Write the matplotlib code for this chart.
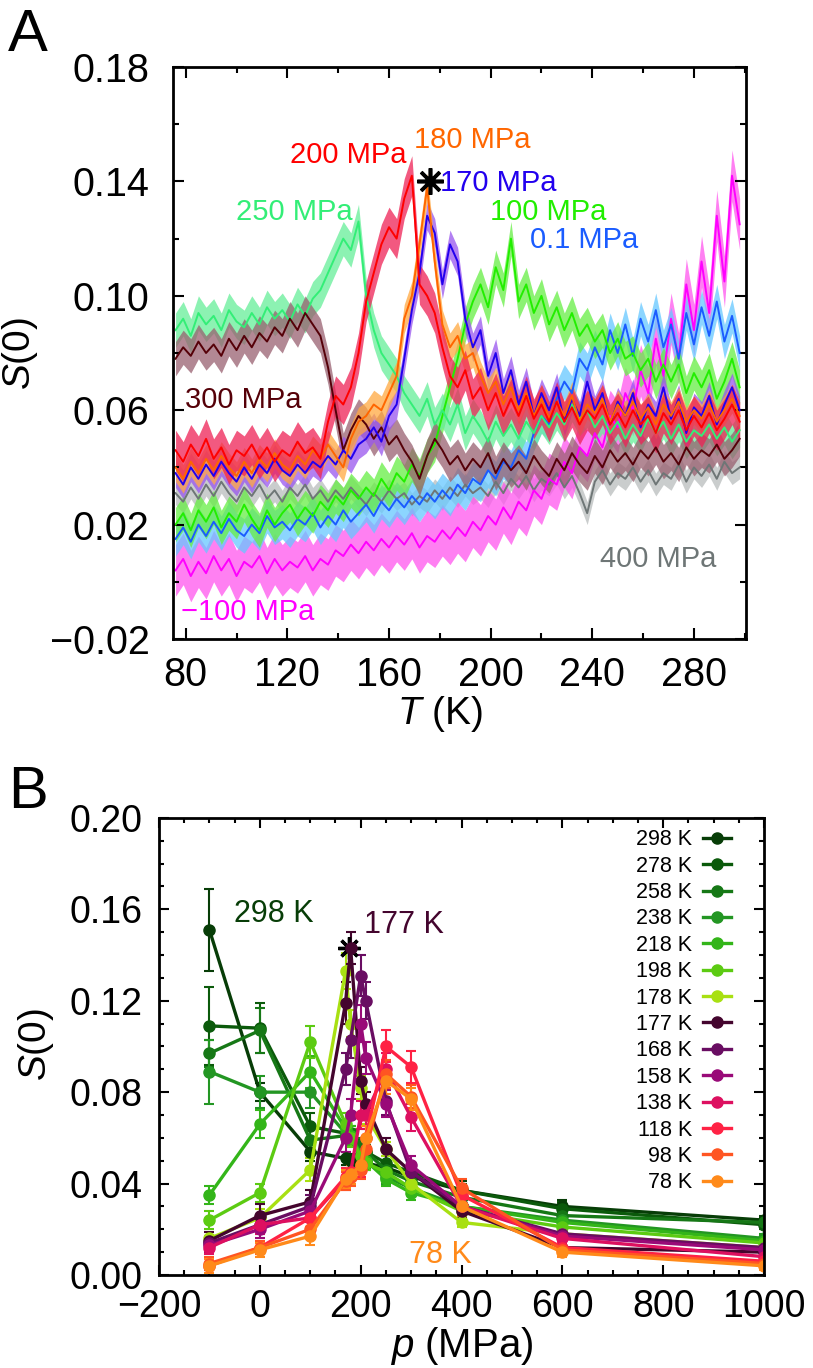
import numpy as np
import matplotlib
matplotlib.use('Agg')
import matplotlib.pyplot as plt
from matplotlib.ticker import FuncFormatter
from matplotlib.lines import Line2D

'''
Two panels of S(0): (A) versus temperature at fixed pressure, with a shaded band,
(B) versus pressure at fixed temperature, with error bars.
'''

plt.rcParams['font.family'] = ['Liberation Sans', 'DejaVu Sans']
plt.rcParams['mathtext.fontset'] = 'custom'
plt.rcParams['mathtext.rm'] = 'Liberation Sans'
plt.rcParams['mathtext.it'] = 'Liberation Sans:italic'

# ------------------------------------------------------| Data panel A
temp_a = np.arange(76, 299, 3)  # K, 75 samples

s_m100 = [.004, .008, .002, .007, .003, .009, .004, .008, .002, .007,
          .005, .009, .003, .008, .004, .007, .005, .009, .004, .008,
          .006, .011, .009, .013, .010, .014, .011, .015, .012, .016,
          .013, .017, .012, .016, .014, .018, .015, .019, .016, .021,
          .018, .023, .020, .026, .022, .028, .025, .032, .029, .036,
          .034, .042, .038, .047, .044, .052, .047, .058, .054, .066,
          .060, .074, .066, .085, .072, .092, .078, .104, .088, .112,
          .094, .128, .105, .142, .125]
s_01 = [.015, .019, .014, .020, .016, .021, .017, .022, .018, .016,
        .020, .017, .023, .019, .021, .018, .022, .020, .024, .019,
        .023, .020, .025, .021, .024, .027, .023, .028, .025, .029,
        .026, .030, .027, .031, .028, .032, .029, .034, .031, .036,
        .034, .039, .036, .042, .040, .046, .043, .052, .058, .055,
        .064, .070, .066, .078, .074, .082, .076, .088, .080, .090,
        .079, .092, .084, .095, .082, .090, .078, .094, .083, .096,
        .086, .098, .084, .093, .080]
s_100 = [.020, .024, .018, .025, .021, .026, .019, .024, .021, .027,
         .022, .018, .025, .020, .024, .027, .022, .026, .023, .028,
         .025, .030, .027, .032, .029, .033, .030, .036, .032, .038,
         .035, .041, .037, .044, .048, .058, .068, .078, .090, .098,
         .104, .096, .110, .102, .120, .098, .104, .094, .100, .090,
         .096, .088, .094, .086, .090, .084, .088, .080, .085, .078,
         .080, .074, .078, .070, .076, .070, .076, .066, .073, .068,
         .074, .064, .070, .078, .068]
s_170 = [.038, .034, .040, .036, .041, .037, .042, .038, .035, .040,
         .036, .041, .038, .043, .039, .037, .041, .038, .042, .040,
         .044, .041, .046, .043, .048, .050, .054, .049, .058, .062,
         .078, .095, .108, .128, .122, .104, .118, .112, .092, .082,
         .088, .072, .080, .066, .074, .062, .070, .058, .066, .060,
         .068, .056, .064, .058, .070, .060, .066, .055, .063, .058,
         .066, .054, .062, .058, .068, .057, .064, .052, .061, .058,
         .065, .055, .062, .068, .060]
s_180 = [.040, .036, .042, .038, .043, .039, .044, .040, .037, .042,
         .038, .043, .040, .045, .041, .039, .044, .041, .046, .043,
         .048, .044, .040, .050, .056, .058, .062, .060, .066, .072,
         .092, .100, .118, .138, .112, .090, .082, .086, .078, .080,
         .072, .066, .070, .062, .068, .060, .066, .058, .064, .057,
         .063, .058, .065, .056, .062, .059, .064, .056, .062, .058,
         .063, .057, .061, .055, .062, .058, .063, .056, .060, .057,
         .062, .056, .060, .064, .058]
s_200 = [.046, .042, .048, .044, .050, .043, .047, .041, .046, .044,
         .048, .043, .047, .042, .046, .044, .049, .045, .047, .043,
         .056, .065, .062, .068, .080, .098, .108, .118, .124, .120,
         .134, .142, .104, .100, .094, .082, .072, .068, .074, .064,
         .068, .060, .066, .058, .064, .058, .065, .057, .062, .056,
         .063, .056, .061, .055, .060, .057, .062, .055, .059, .054,
         .060, .055, .058, .052, .059, .055, .060, .053, .058, .054,
         .059, .053, .057, .062, .056]
s_250 = [.088, .092, .086, .094, .090, .093, .088, .095, .091, .089,
         .094, .090, .096, .092, .095, .091, .097, .093, .099, .102,
         .108, .114, .120, .116, .126, .100, .088, .080, .076, .072,
         .066, .062, .058, .064, .055, .060, .055, .062, .052, .058,
         .054, .049, .056, .051, .055, .050, .056, .052, .058, .054,
         .059, .055, .062, .057, .060, .054, .058, .052, .056, .050,
         .055, .051, .057, .052, .056, .050, .055, .049, .053, .051,
         .055, .050, .054, .049, .053]
s_300 = [.078, .082, .079, .084, .080, .083, .079, .085, .081, .086,
         .082, .087, .084, .089, .086, .092, .088, .094, .090, .086,
         .075, .060, .046, .053, .058, .055, .050, .054, .048, .051,
         .046, .042, .036, .044, .050, .046, .041, .044, .039, .043,
         .040, .045, .038, .043, .039, .042, .038, .044, .040, .037,
         .043, .039, .045, .041, .038, .044, .040, .046, .042, .045,
         .041, .046, .043, .047, .042, .045, .041, .047, .043, .046,
         .044, .048, .043, .046, .050]
s_400 = [.031, .028, .033, .029, .034, .030, .035, .031, .028, .033,
         .030, .034, .029, .032, .028, .033, .030, .034, .029, .032,
         .028, .032, .029, .033, .030, .027, .031, .028, .032, .029,
         .031, .027, .030, .028, .032, .029, .033, .030, .034, .031,
         .033, .030, .035, .031, .036, .033, .037, .032, .036, .034,
         .038, .033, .037, .031, .024, .035, .039, .034, .038, .036,
         .040, .035, .039, .034, .038, .036, .041, .035, .040, .037,
         .041, .036, .042, .038, .040]

labels_a = ['400 MPa', '\u2212100 MPa', '0.1 MPa', '100 MPa', '250 MPa',
            '300 MPa', '170 MPa', '180 MPa', '200 MPa']
values_a = [s_400, s_m100, s_01, s_100, s_250, s_300, s_170, s_180, s_200]
band_a = [0.004, 0.009, 0.006, 0.006, 0.006, 0.006, 0.005, 0.005, 0.007]
line_col_a = ['#6E7676', '#FF00FF', '#1A5CFF', '#22EE00', '#33EE77',
              '#550008', '#2200EE', '#FF6600', '#FF0000']
band_col_a = ['#B9BDBD', '#FF55EE', '#66C8FF', '#66EE44', '#66EE99',
              '#996070', '#9955EE', '#FFA840', '#EE2255']
# label anchor (T, S(0)) per series, same order
lab_t_a = [266, 104.2, 236.6, 222.8, 122.6, 102.6, 202.8, 192.6, 143.8]
lab_s_a = [0.0052, -0.0133, 0.1167, 0.1265, 0.1265, 0.0608, 0.1367, 0.1516, 0.1464]

star_a = (176, 0.140)

# ------------------------------------------------------| Data panel B
pres_b = [-100, 0, 100, 170, 180, 200, 210, 250, 300, 400, 600, 1000]  # MPa
temps_b = ['298 K', '278 K', '258 K', '238 K', '218 K', '198 K', '178 K',
           '177 K', '168 K', '158 K', '138 K', '118 K', '98 K', '78 K']

s_298 = [0.151, 0.080, 0.054, 0.051, 0.050, 0.049, 0.049, 0.047, 0.043, 0.037, 0.030, 0.024]
s_278 = [0.109, 0.108, 0.065, 0.062, 0.060, 0.056, 0.054, 0.049, 0.045, 0.037, 0.029, 0.022]
s_258 = [0.097, 0.107, 0.059, 0.061, 0.062, 0.057, 0.054, 0.046, 0.041, 0.034, 0.026, 0.023]
s_238 = [0.089, 0.080, 0.080, 0.062, 0.060, 0.052, 0.050, 0.043, 0.038, 0.030, 0.024, 0.016]
s_218 = [0.035, 0.066, 0.089, 0.064, 0.061, 0.053, 0.050, 0.042, 0.036, 0.030, 0.023, 0.015]
s_198 = [0.024, 0.036, 0.102, 0.066, 0.060, 0.052, 0.049, 0.045, 0.038, 0.028, 0.021, 0.014]
s_178 = [0.016, 0.025, 0.046, 0.133, 0.110, 0.082, 0.070, 0.055, 0.040, 0.023, 0.018, 0.012]
s_177 = [0.015, 0.026, 0.032, 0.119, 0.143, 0.085, 0.075, 0.055, 0.045, 0.028, 0.012, 0.010]
s_168 = [0.014, 0.022, 0.030, 0.090, 0.103, 0.131, 0.120, 0.076, 0.045, 0.030, 0.018, 0.012]
s_158 = [0.013, 0.020, 0.028, 0.060, 0.070, 0.110, 0.095, 0.075, 0.048, 0.030, 0.017, 0.011]
s_138 = [0.012, 0.022, 0.025, 0.042, 0.045, 0.070, 0.070, 0.090, 0.069, 0.030, 0.016, 0.008]
s_118 = [0.004, 0.012, 0.025, 0.043, 0.045, 0.048, 0.060, 0.100, 0.091, 0.035, 0.012, 0.006]
s_98 = [0.005, 0.012, 0.020, 0.041, 0.043, 0.046, 0.055, 0.088, 0.078, 0.038, 0.011, 0.005]
s_78 = [0.004, 0.011, 0.017, 0.042, 0.044, 0.048, 0.060, 0.085, 0.077, 0.030, 0.010, 0.004]

e_298 = [0.018, 0.004, 0.004, 0.003, 0.003, 0.003, 0.003, 0.003, 0.003, 0.004, 0.003, 0.002]
e_278 = [0.017, 0.011, 0.006, 0.003, 0.003, 0.003, 0.003, 0.003, 0.003, 0.003, 0.003, 0.002]
e_258 = [0.006, 0.010, 0.006, 0.003, 0.003, 0.003, 0.003, 0.003, 0.003, 0.003, 0.003, 0.002]
e_238 = [0.014, 0.007, 0.007, 0.004, 0.003, 0.003, 0.003, 0.003, 0.003, 0.003, 0.002, 0.002]
e_218 = [0.004, 0.006, 0.007, 0.004, 0.004, 0.003, 0.003, 0.003, 0.003, 0.003, 0.002, 0.002]
e_198 = [0.004, 0.004, 0.007, 0.005, 0.004, 0.003, 0.003, 0.003, 0.003, 0.003, 0.002, 0.002]
e_178 = [0.003, 0.004, 0.005, 0.008, 0.006, 0.005, 0.004, 0.003, 0.003, 0.002, 0.002, 0.002]
e_177 = [0.004, 0.005, 0.005, 0.009, 0.007, 0.006, 0.005, 0.005, 0.004, 0.003, 0.002, 0.002]
e_168 = [0.003, 0.004, 0.005, 0.007, 0.008, 0.009, 0.008, 0.006, 0.004, 0.003, 0.002, 0.002]
e_158 = [0.003, 0.004, 0.005, 0.006, 0.007, 0.008, 0.007, 0.006, 0.004, 0.003, 0.002, 0.002]
e_138 = [0.003, 0.004, 0.004, 0.005, 0.005, 0.006, 0.006, 0.007, 0.006, 0.003, 0.002, 0.002]
e_118 = [0.003, 0.003, 0.004, 0.004, 0.004, 0.005, 0.005, 0.007, 0.007, 0.004, 0.002, 0.002]
e_98 = [0.003, 0.003, 0.004, 0.004, 0.004, 0.004, 0.005, 0.006, 0.005, 0.004, 0.002, 0.002]
e_78 = [0.003, 0.003, 0.004, 0.004, 0.004, 0.004, 0.005, 0.006, 0.005, 0.004, 0.002, 0.002]

values_b = [s_298, s_278, s_258, s_238, s_218, s_198, s_178,
            s_177, s_168, s_158, s_138, s_118, s_98, s_78]
errors_b = [e_298, e_278, e_258, e_238, e_218, e_198, e_178,
            e_177, e_168, e_158, e_138, e_118, e_98, e_78]
colors_b = ['#073D07', '#0B5A0B', '#167816', '#239623', '#33B519', '#5CCB12', '#A8E012',
            '#44052E', '#690D62', '#990A78', '#DD1060', '#FF2244', '#FF5522', '#FF8A1A']

star_b = (177, 0.143)

# ------------------------------------------------------| Figure
fig = plt.figure(figsize=(8.13, 13.68), dpi=100)
axA = fig.add_axes([0.2128, 0.5329, 0.7048, 0.4181])
axB = fig.add_axes([0.1956, 0.0680, 0.7442, 0.3341])

minus_fmt = FuncFormatter(lambda v, _: ('%.2f' % v).replace('-', '\u2212'))
int_fmt = FuncFormatter(lambda v, _: ('%d' % round(v)).replace('-', '\u2212'))

# --------------- | Panel A
for i in range(len(values_a)):
    s = np.array(values_a[i])
    axA.fill_between(temp_a, s - band_a[i], s + band_a[i], color=band_col_a[i],
                     alpha=0.75, lw=0)
    axA.plot(temp_a, s, color=line_col_a[i], lw=1.4)
    axA.text(lab_t_a[i], lab_s_a[i], labels_a[i], color=line_col_a[i],
             fontsize=21, ha='center', va='baseline')

axA.plot(star_a[0], star_a[1], marker=(8, 2, 0), ms=19, mew=2.6, color='black')

axA.set_xlim(75, 300.5)
axA.set_ylim(-0.02, 0.18)
axA.set_xticks([80, 120, 160, 200, 240, 280])
axA.set_xticks([100, 140, 180, 220, 260, 300], minor=True)
axA.set_yticks([-0.02, 0.02, 0.06, 0.10, 0.14, 0.18])
axA.set_yticks([0.0, 0.04, 0.08, 0.12, 0.16], minor=True)
axA.yaxis.set_major_formatter(minus_fmt)
axA.tick_params(which='both', direction='in', top=True, right=True, width=1.5,
                labelsize=28.5)
axA.tick_params(which='major', length=8)
axA.tick_params(which='minor', length=4)
axA.tick_params(axis='x', pad=12)
axA.tick_params(axis='y', pad=17)
for sp in axA.spines.values():
    sp.set_linewidth(2)
axA.text(-0.267, 0.5, '$S$(0)', transform=axA.transAxes, rotation=90,
         ha='center', va='center', fontsize=28)
fig.text(440 / 813, 1 - 724 / 1368, '$T$ (K)', ha='center', va='baseline', fontsize=28)

# --------------- | Panel B
handles = []
for i in range(len(values_b)):
    axB.errorbar(pres_b, values_b[i], yerr=errors_b[i], color=colors_b[i], lw=2.4,
                 marker='o', ms=8, capsize=3.5, elinewidth=1.5, capthick=1.5)
    handles.append(Line2D([], [], color=colors_b[i], lw=2.4, marker='o', ms=8))

axB.plot(star_b[0], star_b[1], marker=(8, 2, 0), ms=16, mew=2.4, color='black')

axB.text(27, 0.1546, '298 K', color=colors_b[0], fontsize=22, ha='center', va='baseline')
axB.text(285, 0.1495, '177 K', color=colors_b[7], fontsize=22, ha='center', va='baseline')
axB.text(358, 0.0052, '78 K', color=colors_b[13], fontsize=22, ha='center', va='baseline')

axB.legend(handles, temps_b, loc='upper right', bbox_to_anchor=(0.945, 0.975),
           markerfirst=False, frameon=False, fontsize=15.5, handlelength=1.3,
           handletextpad=0.5, labelspacing=0.25, borderpad=0, borderaxespad=0)

axB.set_xlim(-200, 1000)
axB.set_ylim(0, 0.20)
axB.set_xticks([-200, 0, 200, 400, 600, 800, 1000])
axB.set_xticks(np.arange(-200, 1001, 50), minor=True)
axB.set_yticks([0.0, 0.04, 0.08, 0.12, 0.16, 0.20])
axB.set_yticks(np.arange(0, 0.2001, 0.01), minor=True)
axB.xaxis.set_major_formatter(int_fmt)
axB.yaxis.set_major_formatter(minus_fmt)
axB.tick_params(which='both', direction='in', top=True, right=True, width=1.5,
                labelsize=27)
axB.tick_params(which='major', length=7)
axB.tick_params(which='minor', length=3.5)
axB.tick_params(axis='x', pad=10)
axB.tick_params(axis='y', pad=12)
for sp in axB.spines.values():
    sp.set_linewidth(2)
axB.text(-0.203, 0.505, '$S$(0)', transform=axB.transAxes, rotation=90,
         ha='center', va='center', fontsize=28)
fig.text(462 / 813, 1 / 1368, '$p$ (MPa)', ha='center', va='bottom', fontsize=29)

# panel letters
fig.text(8 / 813, 1 - 8 / 1368, 'A', fontsize=43, ha='left', va='top')
fig.text(8 / 813, 1 - 765 / 1368, 'B', fontsize=43, ha='left', va='top')

fig.savefig('out.png', dpi=100)
